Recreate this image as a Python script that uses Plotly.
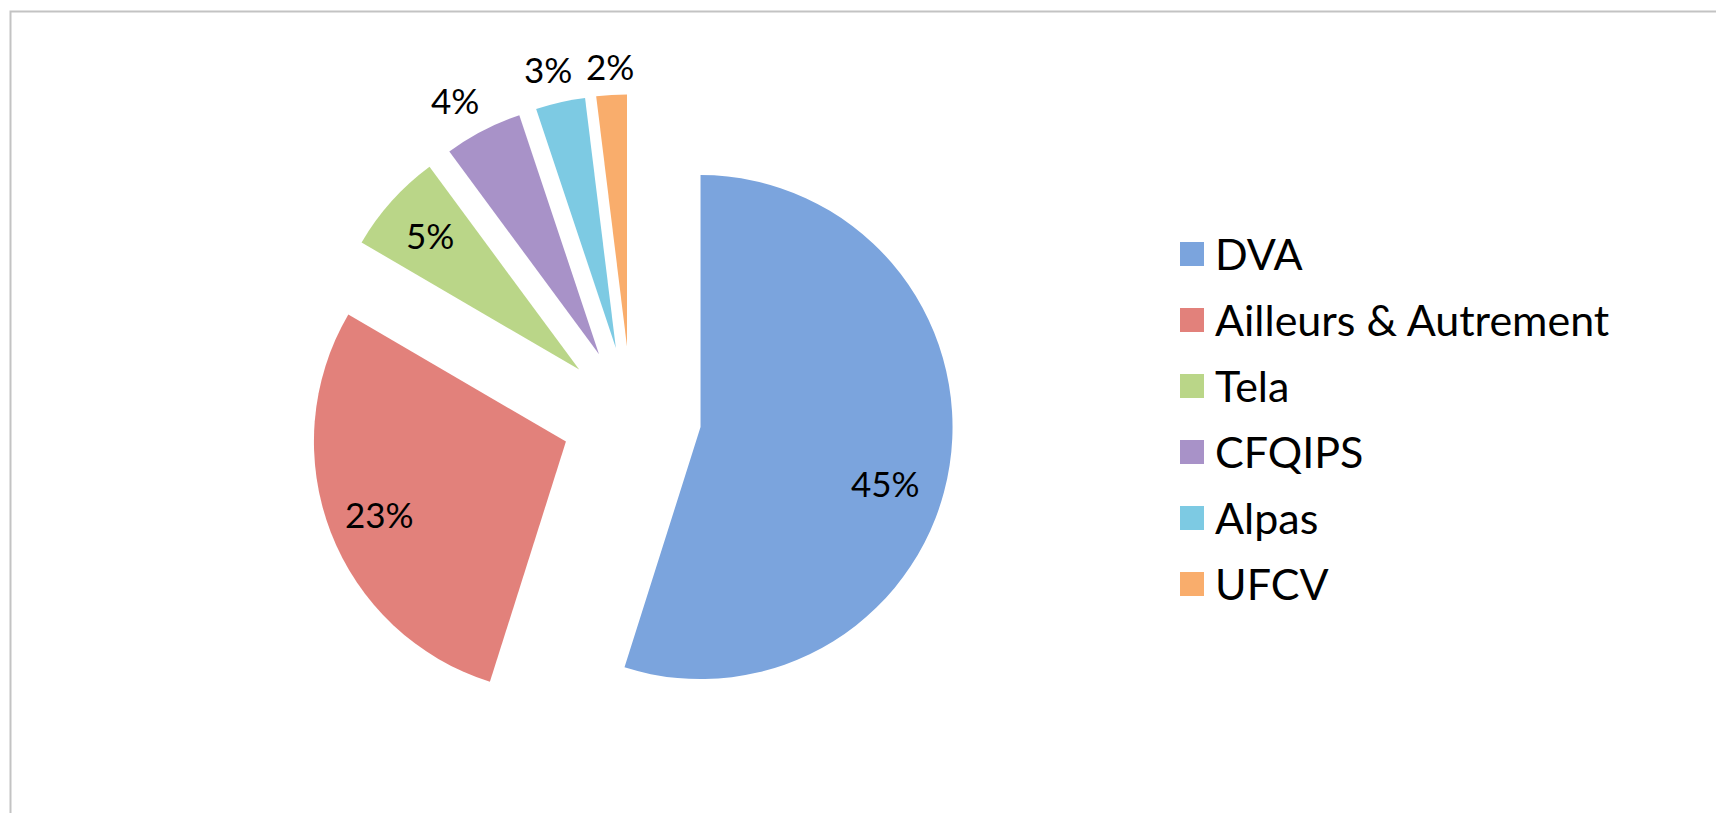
import math
import plotly.graph_objects as go

# ---- data (slice sizes; labels are their rounded values) ----
categories = ["DVA", "Ailleurs & Autrement", "Tela", "CFQIPS", "Alpas", "UFCV"]
values = [45.0, 23.4, 5.3, 4.1, 2.6, 1.6]

# ---- styles ----
colors = ["#7BA4DD", "#E2817B", "#BAD688", "#A892C8", "#7DCAE3", "#F9AD6C"]
label_radius = [0.765, 0.794, 0.798, 1.16, 1.14, 1.115]   # fraction of radius, from pulled slice centre
label_angle_shift = [8, 0, 0, -2, -1, 0]                   # degrees
PULL = 0.278

W, H = 1716, 813
pie_cx, pie_cy, pie_r = 631.3, 416.4, 252   # pixel layout of the pie
half = pie_r * (1 + PULL)
dom_x = [(pie_cx - half) / W, (pie_cx + half) / W]
dom_y = [(H - pie_cy - half) / H, (H - pie_cy + half) / H]

FONT = "Lato, 'Open Sans', sans-serif"

fig = go.Figure(go.Pie(
    labels=categories,
    values=values,
    sort=False,
    direction="clockwise",
    rotation=0,
    pull=[PULL] * len(values),
    marker=dict(colors=colors, line=dict(width=0)),
    textinfo="none",
    hoverinfo="label+value",
    domain=dict(x=dom_x, y=dom_y),
    showlegend=False,
))

# data labels placed along each slice's mid-angle
annotations = []
total = sum(values)
cum = 0
for i, v in enumerate(values):
    mid = (cum + v / 2) / total * 2 * math.pi
    cum += v
    pcx = pie_cx + PULL * pie_r * math.sin(mid)
    pcy = pie_cy - PULL * pie_r * math.cos(mid)
    ang = mid + math.radians(label_angle_shift[i])
    dist = pie_r * label_radius[i]
    x = pcx + dist * math.sin(ang)
    y = pcy - dist * math.cos(ang)
    annotations.append(dict(
        x=x / W, y=1 - y / H, xref="paper", yref="paper",
        text=f"{round(v)}%", showarrow=False,
        font=dict(family=FONT, size=35, color="#000000"),
        xanchor="center", yanchor="middle",
    ))

# legend (drawn manually to match the large square keys)
shapes = []
leg_x0, leg_sq, leg_top, leg_step, leg_text_x = 1180, 24, 254, 66.0, 1213
for i, name in enumerate(categories):
    yc = leg_top + i * leg_step
    shapes.append(dict(
        type="rect", xref="paper", yref="paper",
        x0=leg_x0 / W, x1=(leg_x0 + leg_sq) / W,
        y0=1 - (yc + leg_sq / 2) / H, y1=1 - (yc - leg_sq / 2) / H,
        fillcolor=colors[i], line=dict(width=0),
    ))
    annotations.append(dict(
        x=leg_text_x / W, y=1 - (yc - 1) / H, xref="paper", yref="paper",
        text=name, showarrow=False, xanchor="left", yanchor="middle",
        font=dict(family=FONT, size=43, color="#000000"),
    ))

# chart border
shapes.append(dict(
    type="rect", xref="paper", yref="paper",
    x0=10.5 / W, x1=1.02, y0=-0.03, y1=1 - 11.5 / H,
    line=dict(color="#C3C3C3", width=2), fillcolor="rgba(0,0,0,0)", layer="above",
))

fig.update_layout(
    width=W, height=H,
    margin=dict(l=0, r=0, t=0, b=0),
    paper_bgcolor="white", plot_bgcolor="white",
    annotations=annotations, shapes=shapes,
    font=dict(family=FONT),
)

fig.write_html(
    "out.html",
    config={"displayModeBar": False},
    post_script="document.body.style.margin='0';document.body.style.overflow='hidden';",
)
